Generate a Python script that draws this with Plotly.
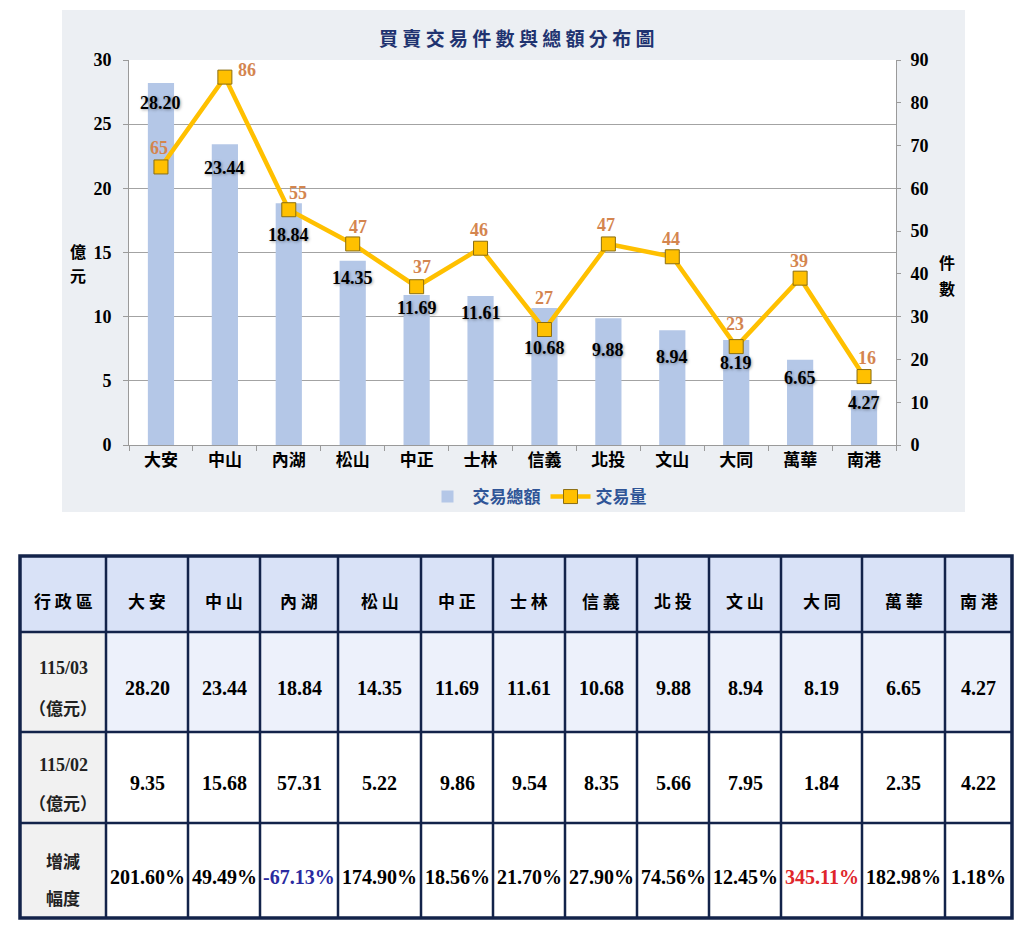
import plotly.graph_objects as go

W, H = 1033, 929

# ---------------- data ----------------
DISTRICTS = ["大安", "中山", "內湖", "松山", "中正", "士林", "信義", "北投", "文山", "大同", "萬華", "南港"]
AMOUNT_11503 = [28.20, 23.44, 18.84, 14.35, 11.69, 11.61, 10.68, 9.88, 8.94, 8.19, 6.65, 4.27]
AMOUNT_11502 = [9.35, 15.68, 57.31, 5.22, 9.86, 9.54, 8.35, 5.66, 7.95, 1.84, 2.35, 4.22]
CHANGE_PCT = [201.60, 49.49, -67.13, 174.90, 18.56, 21.70, 27.90, 74.56, 12.45, 345.11, 182.98, 1.18]
COUNTS = [65, 86, 55, 47, 37, 46, 27, 47, 44, 23, 39, 16]

TITLE = "買賣交易件數與總額分布圖"
Y1_TITLE = ["億", "元"]
Y2_TITLE = ["件", "數"]
BAR_NAME = "交易總額"
LINE_NAME = "交易量"
TABLE_HEAD = "行政區"
ROW1_LABEL = ["115/03", "（億元）"]
ROW2_LABEL = ["115/02", "（億元）"]
ROW3_LABEL = ["增減", "幅度"]

# ---------------- label offsets (styling, pixels) ----------------
BAR_LABEL_DY = [-20, -24, -32, -17, -13, -17, -40, -32, -27, -23, -18, -13]
LINE_LABEL_DY = [19, 7, 17, 17, 20, 18, 32, 19, 18, 23, 17, 19]
LINE_LABEL_DX = [-2, 22, 9, 5, 5, -2, 0, -2, -1, -1, -1, 3]

SERIF = "Liberation Serif, Noto Sans CJK TC"
CJK = "Noto Sans CJK TC"


def px(x):
    return x / W


def py(y):
    return 1 - y / H


PLOT_L, PLOT_R, PLOT_T, PLOT_B = 129, 896, 60, 445

fig = go.Figure()

fig.add_trace(go.Bar(
    x=DISTRICTS, y=AMOUNT_11503, name=BAR_NAME,
    marker=dict(color="#b4c7e7", line=dict(width=0)),
    yaxis="y", hoverinfo="x+y",
))
fig.add_trace(go.Scatter(
    x=DISTRICTS, y=COUNTS, name=LINE_NAME, yaxis="y2",
    mode="lines+markers",
    line=dict(color="#ffc000", width=4.5),
    marker=dict(symbol="square", size=14, color="#ffc000",
                line=dict(color="#8a6d10", width=1)),
))

annotations = []
# bar value labels
for cat, v, dy in zip(DISTRICTS, AMOUNT_11503, BAR_LABEL_DY):
    annotations.append(dict(
        x=cat, y=v, xref="x", yref="y", yshift=dy, showarrow=False,
        xanchor="center", yanchor="middle",
        text=f"{v:.2f}",
        font=dict(family=SERIF, size=18, color="#000000", weight="bold",
                  shadow="1px 1px 3px rgba(0,0,0,0.35)"),
    ))
# line value labels
for cat, v, dy, dx in zip(DISTRICTS, COUNTS, LINE_LABEL_DY, LINE_LABEL_DX):
    annotations.append(dict(
        x=cat, y=v, xref="x", yref="y2", yshift=dy, xshift=dx, showarrow=False,
        xanchor="center", yanchor="middle",
        text=f"{v}",
        font=dict(family=SERIF, size=18, color="#d4854f", weight="bold"),
    ))


def paper_text(x, y, text, size, color="#000000", family=SERIF):
    annotations.append(dict(
        x=px(x), y=py(y), xref="paper", yref="paper", showarrow=False,
        xanchor="center", yanchor="middle",
        text=text, font=dict(family=family, size=size, color=color, weight="bold"),
    ))


# title
paper_text(516, 37, " ".join(TITLE), 19, color="#1f3370", family=CJK)
# axis titles (stacked characters)
for i, ch in enumerate(Y1_TITLE):
    paper_text(78, 251 + 24 * i, ch, 16, family=CJK)
for i, ch in enumerate(Y2_TITLE):
    paper_text(947, 262 + 26 * i, ch, 16, family=CJK)

shapes = []
# chart panel background
shapes.append(dict(type="rect", xref="paper", yref="paper",
                   x0=px(62), x1=px(965), y0=py(512), y1=py(10),
                   fillcolor="#eceff3", line=dict(width=0), layer="below"))
shapes.append(dict(type="rect", xref="paper", yref="paper",
                   x0=px(PLOT_L), x1=px(PLOT_R), y0=py(PLOT_B), y1=py(PLOT_T),
                   fillcolor="#ffffff", line=dict(width=0), layer="below"))

# ---------------- table ----------------
COL_X = [20, 106, 188, 260, 338, 421, 493, 565, 637, 709, 781, 862, 945, 1012]
ROW_Y = [556, 632, 732, 823, 918]
HEAD_FILL = "#d9e2f7"
FIRSTCOL_FILL = "#f1f1f1"
ROW1_FILL = "#edf1fb"
GRID = "#13234a"

# fills
shapes.append(dict(type="rect", xref="paper", yref="paper",
                   x0=px(COL_X[0]), x1=px(COL_X[-1]), y0=py(ROW_Y[1]), y1=py(ROW_Y[0]),
                   fillcolor=HEAD_FILL, line=dict(width=0)))
shapes.append(dict(type="rect", xref="paper", yref="paper",
                   x0=px(COL_X[1]), x1=px(COL_X[-1]), y0=py(ROW_Y[2]), y1=py(ROW_Y[1]),
                   fillcolor=ROW1_FILL, line=dict(width=0)))
shapes.append(dict(type="rect", xref="paper", yref="paper",
                   x0=px(COL_X[0]), x1=px(COL_X[1]), y0=py(ROW_Y[-1]), y1=py(ROW_Y[1]),
                   fillcolor=FIRSTCOL_FILL, line=dict(width=0)))
# grid lines
for x in COL_X[1:-1]:
    shapes.append(dict(type="line", xref="paper", yref="paper",
                       x0=px(x), x1=px(x), y0=py(ROW_Y[-1]), y1=py(ROW_Y[0]),
                       line=dict(color=GRID, width=2.5)))
for y in ROW_Y[1:-1]:
    shapes.append(dict(type="line", xref="paper", yref="paper",
                       x0=px(COL_X[0]), x1=px(COL_X[-1]), y0=py(y), y1=py(y),
                       line=dict(color=GRID, width=2.5)))
shapes.append(dict(type="rect", xref="paper", yref="paper",
                   x0=px(COL_X[0]), x1=px(COL_X[-1]), y0=py(ROW_Y[-1]), y1=py(ROW_Y[0]),
                   line=dict(color=GRID, width=3.5)))

col_centers = [(a + b) / 2 for a, b in zip(COL_X[:-1], COL_X[1:])]

# header row
paper_text(col_centers[0], 600, " ".join(TABLE_HEAD), 17, family=CJK)
for cx, name in zip(col_centers[1:], DISTRICTS):
    paper_text(cx, 600, " ".join(name), 17, family=CJK)

# first column labels
paper_text(col_centers[0], 668, ROW1_LABEL[0], 18, color="#222222")
paper_text(col_centers[0], 707, ROW1_LABEL[1], 17, color="#222222", family=CJK)
paper_text(col_centers[0], 765, ROW2_LABEL[0], 18, color="#222222")
paper_text(col_centers[0], 802, ROW2_LABEL[1], 17, color="#222222", family=CJK)
paper_text(col_centers[0], 860, ROW3_LABEL[0], 17, color="#222222", family=CJK)
paper_text(col_centers[0], 897, ROW3_LABEL[1], 17, color="#222222", family=CJK)

max_pct = max(CHANGE_PCT)
for cx, a, b, p in zip(col_centers[1:], AMOUNT_11503, AMOUNT_11502, CHANGE_PCT):
    paper_text(cx, 688, f"{a:.2f}", 20)
    paper_text(cx, 783, f"{b:.2f}", 20)
    if p < 0:
        col = "#2a2aa0"
    elif p == max_pct:
        col = "#e0262b"
    else:
        col = "#000000"
    paper_text(cx, 877, f"{p:.2f}%", 20, color=col)

fig.update_layout(
    width=W, height=H,
    margin=dict(l=0, r=0, t=0, b=0, pad=0, autoexpand=False),
    paper_bgcolor="#ffffff",
    plot_bgcolor="#ffffff",
    bargap=0.59,
    showlegend=True,
    legend=dict(
        orientation="h", x=px(537), xanchor="center", y=py(497), yanchor="middle",
        font=dict(family=CJK, size=17, color="#2f5597", weight="bold"),
        bgcolor="rgba(0,0,0,0)", itemwidth=40, traceorder="normal",
    ),
    xaxis=dict(
        domain=[px(PLOT_L), px(PLOT_R)],
        range=[-0.5, len(DISTRICTS) - 0.5], autorange=False,
        showline=True, linecolor="#9a9a9a", linewidth=1,
        ticks="outside", tickson="boundaries", ticklen=5, tickcolor="#9a9a9a",
        tickfont=dict(family=CJK, size=17, color="#000000", weight="bold"),
        showgrid=False, fixedrange=True,
    ),
    yaxis=dict(
        domain=[py(PLOT_B), py(PLOT_T)],
        range=[0, 30], autorange=False, dtick=5, tick0=0,
        showline=True, linecolor="#9a9a9a", linewidth=1,
        ticks="outside", ticklen=5, tickcolor="#9a9a9a",
        showgrid=True, gridcolor="#a3a3a3", gridwidth=1, zeroline=False,
        tickfont=dict(family=SERIF, size=18, color="#000000", weight="bold"),
        ticklabelstandoff=8,
    ),
    yaxis2=dict(
        overlaying="y", side="right", anchor="x",
        range=[0, 90], autorange=False, dtick=10, tick0=0,
        showline=True, linecolor="#9a9a9a", linewidth=1,
        ticks="outside", ticklen=4, tickcolor="#9a9a9a",
        showgrid=False, zeroline=False,
        tickfont=dict(family=SERIF, size=18, color="#000000", weight="bold"),
        ticklabelstandoff=6,
    ),
    annotations=annotations,
    shapes=shapes,
)

fig.write_html("out.html")
